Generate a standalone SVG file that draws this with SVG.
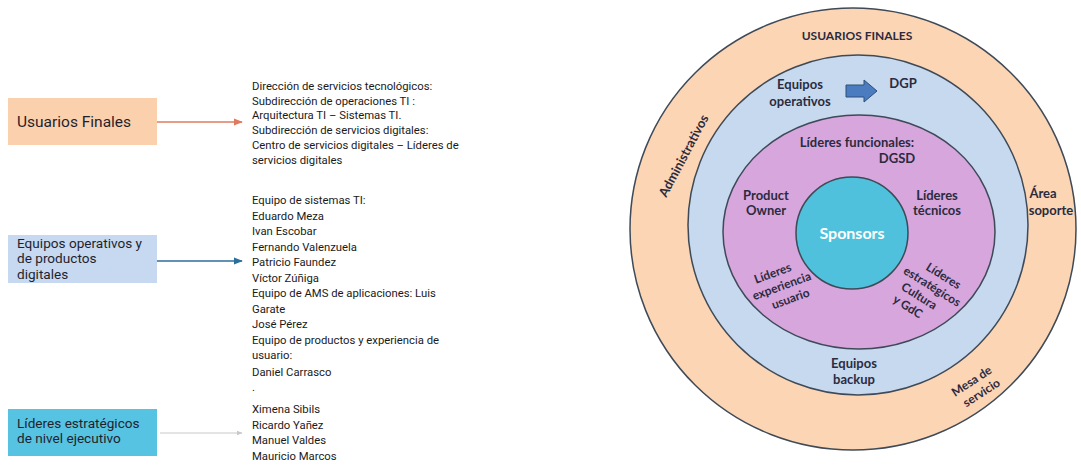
<svg xmlns="http://www.w3.org/2000/svg" width="1081" height="466" viewBox="0 0 1081 466">
<defs>
<style>
.box text{font-family:Roboto,"Liberation Sans",sans-serif;font-size:13.6px;fill:#1f1f2e}
.list{font-family:Roboto,"Liberation Sans",sans-serif;font-size:11.3px;fill:#1a1a1a}
.c{font-family:Lato,"Liberation Sans",sans-serif;font-weight:bold;font-size:13px;fill:#2b2b3f;text-anchor:middle}
.r{font-size:12px}
.ring{stroke:#3e4a58;stroke-width:1.5}
</style>
<marker id="aO" viewBox="0 0 10 10" refX="9" refY="5" markerWidth="6" markerHeight="6" orient="auto"><path d="M0,1 L10,5 L0,9 z" fill="#e07a5f"/></marker>
<marker id="aB" viewBox="0 0 10 10" refX="9" refY="5" markerWidth="6" markerHeight="6" orient="auto"><path d="M0,1 L10,5 L0,9 z" fill="#2c6e9b"/></marker>
<marker id="aG" viewBox="0 0 10 10" refX="9" refY="5" markerWidth="6" markerHeight="6" orient="auto"><path d="M0,1 L10,5 L0,9 z" fill="#c8c8c8"/></marker>
</defs>
<rect width="1081" height="466" fill="#ffffff"/>

<g id="node-usuarios" class="box">
<rect x="8" y="98" width="149" height="47" fill="#fbd0ad"/>
<text x="17" y="127" style="font-size:15.5px">Usuarios Finales</text>
</g>
<g id="node-equipos" class="box">
<rect x="8" y="235" width="149" height="48" fill="#c6d9f0"/>
<text x="17" y="248">Equipos operativos y</text>
<text x="17" y="263">de productos</text>
<text x="17" y="279">digitales</text>
</g>
<g id="node-lideres" class="box">
<rect x="8" y="409" width="149" height="47" fill="#57c3e2"/>
<text x="17" y="428">Líderes estratégicos</text>
<text x="17" y="443">de nivel ejecutivo</text>
</g>

<g id="connectors" fill="none">
<line x1="157" y1="122" x2="242" y2="122" stroke="#e07a5f" stroke-width="1.5" marker-end="url(#aO)"/>
<line x1="157" y1="261" x2="242" y2="261" stroke="#2c6e9b" stroke-width="1.5" marker-end="url(#aB)"/>
<line x1="160" y1="433" x2="242" y2="433" stroke="#c8c8c8" stroke-width="1" marker-end="url(#aG)"/>
</g>

<g id="list-usuarios" class="list">
<text x="252" y="90">Dirección de servicios tecnológicos:</text>
<text x="252" y="104.5">Subdirección de operaciones TI :</text>
<text x="252" y="119">Arquitectura TI – Sistemas TI.</text>
<text x="252" y="134">Subdirección de servicios digitales:</text>
<text x="252" y="149">Centro de servicios digitales – Líderes de</text>
<text x="252" y="164">servicios digitales</text>
</g>
<g id="list-equipos" class="list">
<text x="252" y="204">Equipo de sistemas TI:</text>
<text x="252" y="219.5">Eduardo Meza</text>
<text x="252" y="235">Ivan Escobar</text>
<text x="252" y="250.5">Fernando Valenzuela</text>
<text x="252" y="266">Patricio Faundez</text>
<text x="252" y="281.5">Víctor Zúñiga</text>
<text x="252" y="297">Equipo de AMS de aplicaciones: Luis</text>
<text x="252" y="312.5">Garate</text>
<text x="252" y="328">José Pérez</text>
<text x="252" y="343.5">Equipo de productos y experiencia de</text>
<text x="252" y="359">usuario:</text>
<text x="252" y="376">Daniel Carrasco</text>
<text x="252" y="391">.</text>
</g>
<g id="list-lideres" class="list">
<text x="252" y="413">Ximena Sibils</text>
<text x="252" y="428.5">Ricardo Yañez</text>
<text x="252" y="444">Manuel Valdes</text>
<text x="252" y="459.5">Mauricio Marcos</text>
</g>

<g id="ring-usuarios-finales">
<ellipse class="ring" cx="853" cy="229" rx="223" ry="221" fill="#fbd5b4"/>
<text class="c" x="857" y="40" style="font-size:12px">USUARIOS FINALES</text>
<text class="c" transform="translate(684,156) rotate(-62)" y="4">Administrativos</text>
<text class="c" x="1043" y="198">Área</text>
<text class="c" x="1051" y="215">soporte</text>
<g transform="translate(976,388) rotate(-33)">
<text class="c r" x="0" y="-4">Mesa de</text>
<text class="c r" x="2" y="11">servicio</text>
</g>
</g>

<g id="ring-equipos">
<ellipse class="ring" cx="858" cy="225" rx="170" ry="170" fill="#c6d9ee"/>
<text class="c" x="800" y="89">Equipos</text>
<text class="c" x="800" y="106">operativos</text>
<path d="M846,85 L864,85 L864,80 L877,91 L864,102 L864,97 L846,97 Z" fill="#4a7cbf" stroke="#2f4f7a" stroke-width="1"/>
<text class="c" x="903" y="88">DGP</text>
<text class="c" x="854" y="368">Equipos</text>
<text class="c" x="854" y="384">backup</text>
</g>

<g id="ring-lideres">
<ellipse class="ring" cx="859" cy="232" rx="136" ry="117" fill="#d7a6dc"/>
<text class="c" x="857" y="147">Líderes funcionales:</text>
<text class="c" x="897" y="163">DGSD</text>
<text class="c" x="766" y="200">Product</text>
<text class="c" x="766" y="215">Owner</text>
<text class="c" x="937" y="200">Líderes</text>
<text class="c" x="937" y="215">técnicos</text>
<g transform="translate(782,287) rotate(-20)">
<text class="c r" x="-4" y="-12">Líderes</text>
<text class="c r" x="0" y="3">experiencia</text>
<text class="c r" x="4" y="18">usuario</text>
</g>
<g transform="translate(930,290) rotate(32)">
<text class="c r" x="4" y="-15">Líderes</text>
<text class="c r" x="0" y="0">estratégicos</text>
<text class="c r" x="-6" y="15">Cultura</text>
<text class="c r" x="-10" y="30">y GdC</text>
</g>
</g>

<g id="node-sponsors">
<circle class="ring" cx="852" cy="233" r="56" fill="#4fc1dc"/>
<text class="c" x="852" y="239" style="font-size:16px;fill:#ffffff">Sponsors</text>
</g>
</svg>
